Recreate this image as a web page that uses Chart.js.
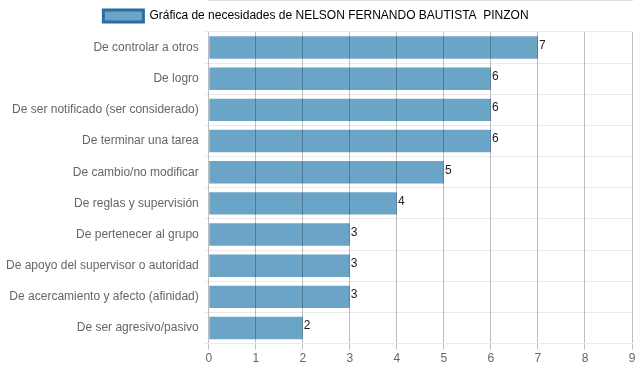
<!DOCTYPE html>
<html>
<head>
<meta charset="utf-8">
<script src="https://cdn.jsdelivr.net/npm/chart.js@4.4.0/dist/chart.umd.min.js"></script>
<style>
  html, body { margin: 0; padding: 0; background: #fff; }
  #wrap { width: 639px; height: 372px; }
</style>
</head>
<body>
<div id="wrap"><canvas id="chartNecesidades"></canvas></div>
<script>
const categories = [
  'De controlar a otros',
  'De logro',
  'De ser notificado (ser considerado)',
  'De terminar una tarea',
  'De cambio/no modificar',
  'De reglas y supervisión',
  'De pertenecer al grupo',
  'De apoyo del supervisor o autoridad',
  'De acercamiento y afecto (afinidad)',
  'De ser agresivo/pasivo'
];
const puntajes = [7, 6, 6, 6, 5, 4, 3, 3, 3, 2];
const xTicks = [0, 1, 2, 3, 4, 5, 6, 7, 8, 9];

// value written right after each bar end
const valueLabels = {
  id: 'valueLabels',
  afterDatasetsDraw(chart) {
    const c = chart.ctx;
    const meta = chart.getDatasetMeta(0);
    c.save();
    c.fillStyle = '#222';
    c.font = '12px "Liberation Sans", Arial, sans-serif';
    c.textAlign = 'left';
    c.textBaseline = 'middle';
    meta.data.forEach((bar, i) => {
      c.fillText(String(puntajes[i]), bar.x + 1, bar.y - 2);
    });
    c.restore();
  }
};

Chart.defaults.font.family = '"Liberation Sans", Arial, sans-serif';
Chart.defaults.font.size = 12;
Chart.defaults.color = '#666';

const ctx = document.getElementById('chartNecesidades');

new Chart(ctx, {
  type: 'bar',
  data: {
    labels: categories,
    datasets: [{
      label: 'Gráfica de necesidades de NELSON FERNANDO BAUTISTA  PINZON',
      data: puntajes,
      backgroundColor: 'rgba(54, 132, 178, 0.74)',
      borderWidth: 0,
      barPercentage: 0.9,
      categoryPercentage: 0.8
    }]
  },
  plugins: [valueLabels],
  options: {
    indexAxis: 'y',
    responsive: true,
    maintainAspectRatio: false,
    animation: false,
    layout: { padding: { left: 0, right: 7, top: 0, bottom: 4 } },
    plugins: {
      legend: {
        display: true,
        labels: {
          boxWidth: 40,
          boxHeight: 12,
          padding: 10,
          color: '#666',
          generateLabels() {
            return [{
              text: 'Gráfica de necesidades de NELSON FERNANDO BAUTISTA  PINZON',
              fillStyle: 'rgba(54, 132, 178, 0.74)',
              strokeStyle: 'rgba(40, 110, 160, 1)',
              lineWidth: 3,
              datasetIndex: 0
            }];
          }
        }
      },
      tooltip: { enabled: false }
    },
    scales: {
      x: {
        min: 0,
        max: 9,
        afterBuildTicks(axis) {
          axis.ticks = xTicks.map(v => ({ value: v }));
        },
        grid: {
          color: 'rgba(0, 0, 0, 0.25)',
          drawTicks: true,
          tickLength: 6,
          z: 1
        },
        border: { color: 'rgba(0, 0, 0, 0.25)' },
        ticks: { color: '#666', padding: 2 }
      },
      y: {
        grid: {
          color: 'rgba(0, 0, 0, 0.08)',
          offset: true,
          drawTicks: true,
          tickLength: 4
        },
        border: { display: false },
        ticks: { color: '#666', padding: 6 }
      }
    }
  }
});
</script>
</body>
</html>
